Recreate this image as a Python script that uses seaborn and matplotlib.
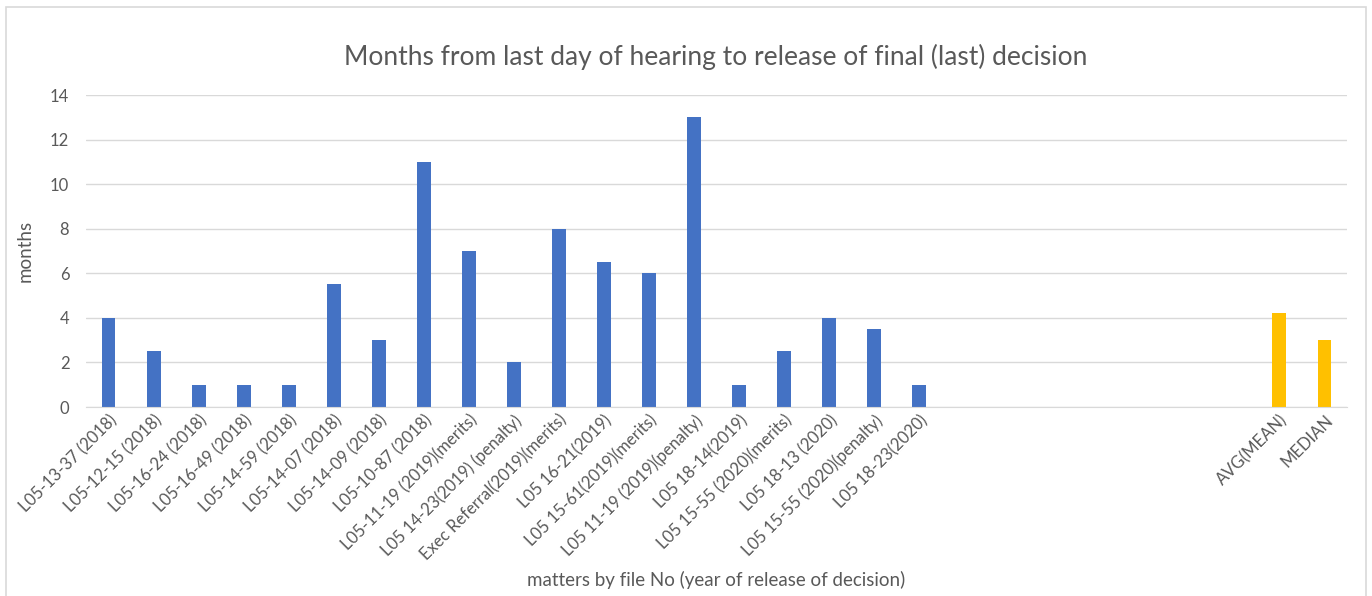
import pandas as pd
import seaborn as sns
import matplotlib.pyplot as plt
from matplotlib.patches import Rectangle

# data
matters = ['L05-13-37 (2018)', 'L05-12-15 (2018)', 'L05-16-24 (2018)', 'L05-16-49 (2018)',
           'L05-14-59 (2018)', 'L05-14-07 (2018)', 'L05-14-09 (2018)', 'L05-10-87 (2018)',
           'L05-11-19 (2019)(merits)', 'L05 14-23(2019) (penalty)', 'Exec Referral(2019)(merits)',
           'L05 16-21(2019)', 'L05 15-61(2019)(merits)', 'L05 11-19 (2019)(penalty)',
           'L05 18-14(2019)', 'L05 15-55 (2020)(merits)', 'L05 18-13 (2020)',
           'L05 15-55 (2020)(penalty)', 'L05 18-23(2020)']
months = [4, 2.5, 1, 1, 1, 5.5, 3, 11, 7, 2, 8, 6.5, 6, 13, 1, 2.5, 4, 3.5, 1]
stat_labels = ['AVG(MEAN)', 'MEDIAN']
stat_values = [4.2, 3]
n_blank = 7

blanks = [' ' * (i + 1) for i in range(n_blank)]
order = matters + blanks + stat_labels
df = pd.DataFrame({
    'matter': matters + stat_labels,
    'months': months + stat_values,
    'kind': ['case'] * len(matters) + ['stat'] * len(stat_labels),
})

sns.set_style('white')
plt.rcParams['font.family'] = ['Lato', 'DejaVu Sans']
grey = '#595959'

fig = plt.figure(figsize=(13.72, 5.96), dpi=100)
ax = fig.add_axes([86 / 1372, 1 - 407 / 596, (1347 - 86) / 1372, (407 - 95) / 596])

sns.barplot(data=df, x='matter', y='months', hue='kind', order=order,
            palette={'case': '#4472C4', 'stat': '#FFC000'}, dodge=False,
            width=0.31, legend=False, ax=ax, saturation=1, linewidth=0)

ax.set_ylim(0, 14)
ax.set_yticks(range(0, 15, 2))
ax.yaxis.grid(True, color='#d9d9d9', linewidth=1)
ax.set_axisbelow(True)
for s in ['top', 'right', 'left']:
    ax.spines[s].set_visible(False)
ax.spines['bottom'].set_color('#d9d9d9')
ax.tick_params(axis='both', length=0, colors=grey, labelsize=12)
ax.tick_params(axis='y', pad=12)
plt.setp(ax.get_xticklabels(), rotation=45, ha='right', rotation_mode='anchor')
ax.set_xlabel('')
ax.set_ylabel('months', color=grey, fontsize=13.5, labelpad=12)

fig.text(716 / 1372, 1 - 57 / 596, 'Months from last day of hearing to release of final (last) decision',
         ha='center', va='center', fontsize=19, color=grey)
fig.text(716 / 1372, 1 - 580 / 596, 'matters by file No (year of release of decision)',
         ha='center', va='center', fontsize=13.5, color=grey)

fig.patches.append(Rectangle((6 / 1372, -0.05), 1360 / 1372, 1.05 - 7 / 596,
                             transform=fig.transFigure, fill=False,
                             edgecolor='#d9d9d9', linewidth=1.2))

fig.savefig('out.png', dpi=100)
